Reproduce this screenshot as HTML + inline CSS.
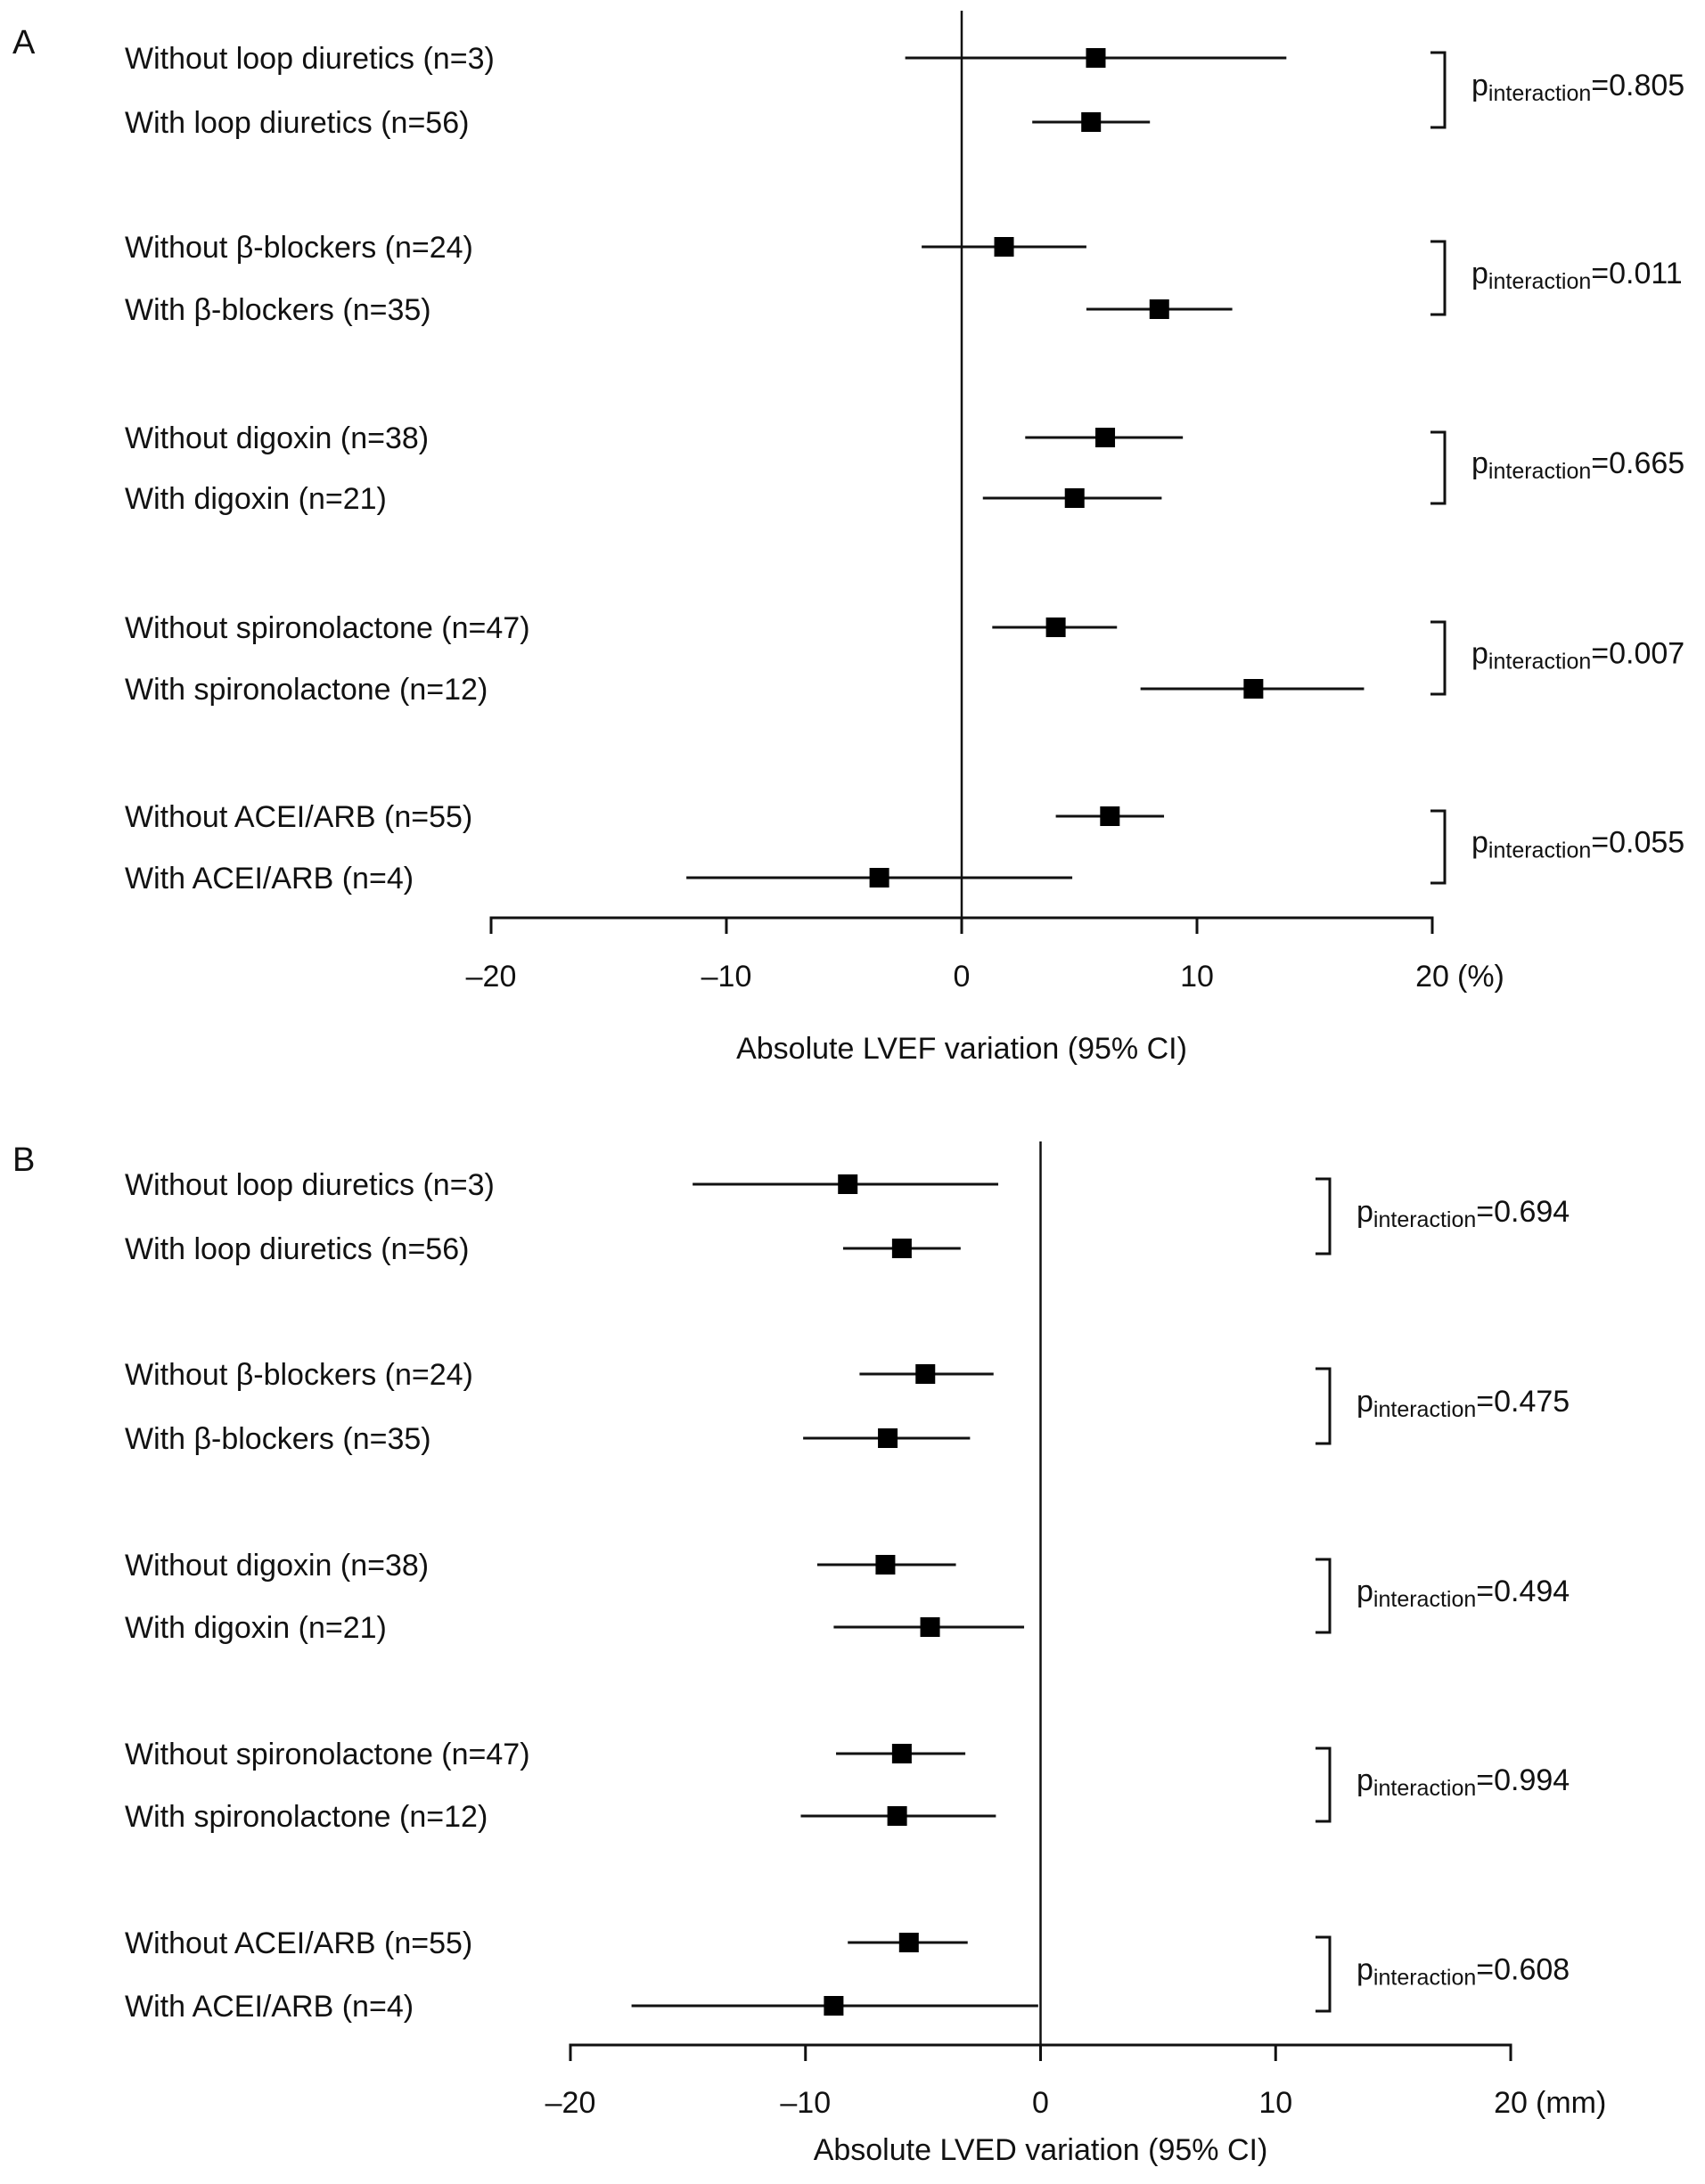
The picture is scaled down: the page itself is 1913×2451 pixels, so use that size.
<!DOCTYPE html>
<html><head><meta charset="utf-8"><style>
html,body{margin:0;padding:0;background:#fff;}
svg{display:block;font-family:"Liberation Sans",Arial,sans-serif;}
</style></head><body>
<svg id="fig" width="1913" height="2451" viewBox="0 0 1913 2451" xmlns="http://www.w3.org/2000/svg"></svg>
<script>
const categories = ["Without loop diuretics (n=3)","With loop diuretics (n=56)","Without \u03b2-blockers (n=24)","With \u03b2-blockers (n=35)","Without digoxin (n=38)","With digoxin (n=21)","Without spironolactone (n=47)","With spironolactone (n=12)","Without ACEI/ARB (n=55)","With ACEI/ARB (n=4)"];
const estA = [5.7,5.5,1.8,8.4,6.1,4.8,4.0,12.4,6.3,-3.5];
const loA  = [-2.4,3.0,-1.7,5.3,2.7,0.9,1.3,7.6,4.0,-11.7];
const hiA  = [13.8,8.0,5.3,11.5,9.4,8.5,6.6,17.1,8.6,4.7];
const pA   = ["0.805","0.011","0.665","0.007","0.055"];
const estB = [-8.2,-5.9,-4.9,-6.5,-6.6,-4.7,-5.9,-6.1,-5.6,-8.8];
const loB  = [-14.8,-8.4,-7.7,-10.1,-9.5,-8.8,-8.7,-10.2,-8.2,-17.4];
const hiB  = [-1.8,-3.4,-2.0,-3.0,-3.6,-0.7,-3.2,-1.9,-3.1,-0.1];
const pB   = ["0.694","0.475","0.494","0.994","0.608"];
const ticks = [-20,-10,0,10,20];
const tickLabels = ["\u201320","\u201310","0","10","20"];

const NS="http://www.w3.org/2000/svg";
const svg=document.getElementById('fig');
function mk(tag,attrs,parent){const e=document.createElementNS(NS,tag);for(const k in attrs)e.setAttribute(k,attrs[k]);(parent||svg).appendChild(e);return e;}
const FS=34;
function panel(cfg){
  const g=mk('g',{});
  
  
  const x=v=>cfg.x0+(v-(-20))*(cfg.x1-cfg.x0)/40;
  const rowY=i=>cfg.rows[i];
  const L=mk('text',{x:14,y:cfg.letterY,'font-size':38,fill:'#111'},g);L.textContent=cfg.letter;
  
  
  const zl=mk('line',{x1:x(0),x2:x(0),y1:cfg.zeroTop,y2:cfg.axisY,stroke:'#111','stroke-width':2.5},g);
  
  
  const ax=mk('line',{x1:x(-20)-1.5,x2:x(20)+1.5,y1:cfg.axisY,y2:cfg.axisY,stroke:'#111','stroke-width':3},g);
  
  
  ticks.forEach((t,i)=>{
    const tl=mk('line',{x1:x(t),x2:x(t),y1:cfg.axisY,y2:cfg.axisY+18,stroke:'#111','stroke-width':3},g);
    
    
    const tx=mk('text',{x:x(t),y:cfg.tickY,'font-size':FS,'text-anchor':'middle',fill:'#111'},g);
    tx.textContent=tickLabels[i];
    
    
  });
  const u=mk('text',{x:x(20)+28,y:cfg.tickY,'font-size':FS,fill:'#111'},g);u.textContent=cfg.unit;
  
  
  const t=mk('text',{x:x(0),y:cfg.titleY,'font-size':FS,'text-anchor':'middle',fill:'#111'},g);t.textContent=cfg.title;
  
  
  categories.forEach((c,i)=>{
    const y=rowY(i);
    const lb=mk('text',{x:140,y:y+12,'font-size':FS,fill:'#111'},g);lb.textContent=c;
    
    
    const ci=mk('line',{x1:x(cfg.lo[i]),x2:x(cfg.hi[i]),y1:y,y2:y,stroke:'#111','stroke-width':3},g);
    
    
    const sq=mk('rect',{x:x(cfg.est[i])-11,y:y-11,width:22,height:22,fill:'#000'},g);
    
    
  });
  cfg.p.forEach((p,k)=>{
    const y1=rowY(2*k)-6,y2=rowY(2*k+1)+6,bx=cfg.bx;
    const br=mk('path',{d:`M${bx-16},${y1} H${bx} V${y2} H${bx-16}`,fill:'none',stroke:'#111','stroke-width':3},g);
    
    
    const pt=mk('text',{x:bx+30,y:(y1+y2)/2+6,'font-size':FS,fill:'#111'},g);
    
    
    const a=mk('tspan',{},pt);a.textContent='p';
    const b=mk('tspan',{'font-size':25,dy:6},pt);b.textContent='interaction';
    const c=mk('tspan',{dy:-6},pt);c.textContent='='+p;
  });
}
panel({name:'panel-a-lvef',letter:'A',letterY:60,x0:551,x1:1607,axisY:1030,zeroTop:12,tickY:1107,titleY:1188,unit:'(%)',title:'Absolute LVEF variation (95% CI)',
  rows:[65,137,277,347,491,559,704,773,916,985],est:estA,lo:loA,hi:hiA,p:pA,bx:1621});
panel({name:'panel-b-lved',letter:'B',letterY:1314,x0:640,x1:1695,axisY:2295,zeroTop:1281,tickY:2371,titleY:2424,unit:'(mm)',title:'Absolute LVED variation (95% CI)',
  rows:[1329,1401,1542,1614,1756,1826,1968,2038,2180,2251],est:estB,lo:loB,hi:hiB,p:pB,bx:1492});
</script>
</body></html>
